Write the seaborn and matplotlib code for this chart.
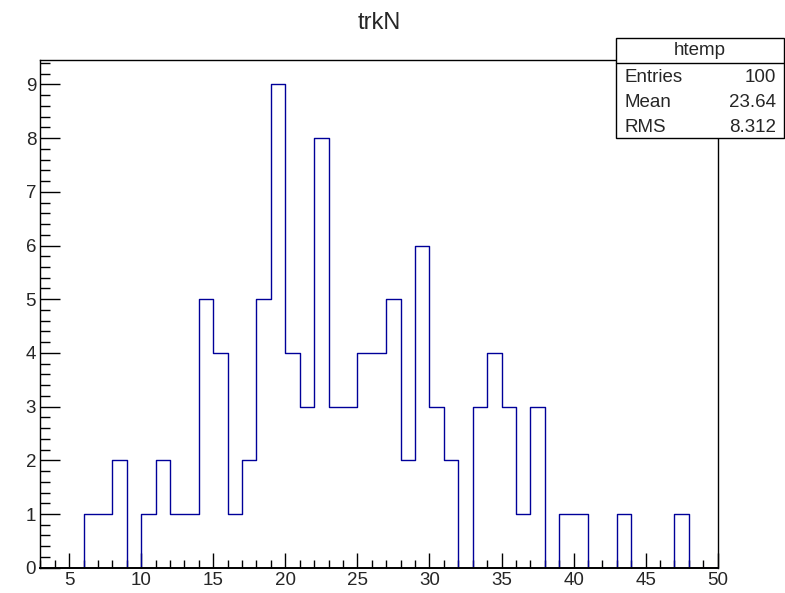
import numpy as np
import pandas as pd
import matplotlib
matplotlib.use("Agg")
import matplotlib.pyplot as plt
from matplotlib.patches import Rectangle
from matplotlib.lines import Line2D
from matplotlib.ticker import MultipleLocator
import seaborn as sns

# trkN histogram: unit-width bins, lower edge and number of entries
bin_lows = [6, 7, 8, 9, 10, 11, 12, 13, 14, 15, 16, 17, 18, 19, 20, 21, 22,
            23, 24, 25, 26, 27, 28, 29, 30, 31, 32, 33, 34, 35, 36, 37, 38,
            39, 40, 41, 42, 43, 44, 45, 46, 47]
counts = [1, 1, 2, 0, 1, 2, 1, 1, 5, 4, 1, 2, 5, 9, 4, 3, 8,
          3, 3, 4, 4, 5, 2, 6, 3, 2, 0, 3, 4, 3, 1, 3, 0,
          1, 1, 0, 0, 1, 0, 0, 0, 1]
x_ticks = [5, 10, 15, 20, 25, 30, 35, 40, 45, 50]
y_ticks = [0, 1, 2, 3, 4, 5, 6, 7, 8, 9]

title = "trkN"
stats_name = "htemp"
stats_rows = [("Entries", "100"), ("Mean", "23.64"), ("RMS", "8.312")]

trkN = pd.DataFrame({"trkN": np.repeat(bin_lows, counts)})

sns.set_style("white")
plt.rcParams["font.family"] = ["Liberation Sans", "DejaVu Sans"]

W, H = 785, 593
fig = plt.figure(figsize=(W / 100, H / 100), dpi=100)
fig.patch.set_facecolor("white")

def fx(px):
    return px / W

def fy(py):
    return 1 - py / H

left, right, top, bottom = 40.3, 717.7, 60.3, 567.7
ax = fig.add_axes([fx(left), fy(bottom), fx(right) - fx(left), fy(top) - fy(bottom)])

sns.histplot(data=trkN, x="trkN", bins=np.arange(3, 51), element="step",
             fill=False, color="#000099", linewidth=1.0, ax=ax)

ax.set_xlim(3, 50)
ax.set_ylim(0, 9.45)
ax.set_xlabel("")
ax.set_ylabel("")
ax.set_xticks(x_ticks)
ax.set_yticks(y_ticks)
ax.xaxis.set_minor_locator(MultipleLocator(1))
ax.yaxis.set_minor_locator(MultipleLocator(0.2))
ax.tick_params(axis="x", which="major", direction="in", length=10.8, width=1.0,
               color="black", labelsize=13.5, pad=3, bottom=True, top=False)
ax.tick_params(axis="x", which="minor", direction="in", length=5.6, width=1.0,
               color="black", bottom=True, top=False)
ax.tick_params(axis="y", which="major", direction="in", length=14.4, width=1.0,
               color="black", labelsize=13.5, pad=3, left=True, right=False)
ax.tick_params(axis="y", which="minor", direction="in", length=7.2, width=1.0,
               color="black", left=True, right=False)
for side, sp in ax.spines.items():
    sp.set_visible(True)
    sp.set_color("black")
    sp.set_linewidth(1.0)
ax.spines["bottom"].set_linewidth(1.4)
ax.grid(False)

fig.text(fx(379), fy(28.8), title, ha="center", va="baseline", fontsize=17)

# statistics box
bx0, bx1, by0, by1 = 616, 784, 38.3, 138.3
fig.add_artist(Rectangle((fx(bx0), fy(by1)), fx(bx1) - fx(bx0), fy(by0) - fy(by1),
                         transform=fig.transFigure, facecolor="white",
                         edgecolor="black", linewidth=1.0, zorder=5))
fig.add_artist(Line2D([fx(bx0), fx(bx1)], [fy(62.7), fy(62.7)],
                      transform=fig.transFigure, color="black", linewidth=1.0, zorder=6))
fig.text(fx(700), fy(50.5), stats_name, ha="center", va="center", fontsize=13.5, zorder=7)
row_y = [78, 102.5, 127]
for (name, val), yy in zip(stats_rows, row_y):
    fig.text(fx(625), fy(yy), name, ha="left", va="center", fontsize=13.5, zorder=7)
    fig.text(fx(776), fy(yy), val, ha="right", va="center", fontsize=13.5, zorder=7)

fig.savefig("out.png", dpi=100)
